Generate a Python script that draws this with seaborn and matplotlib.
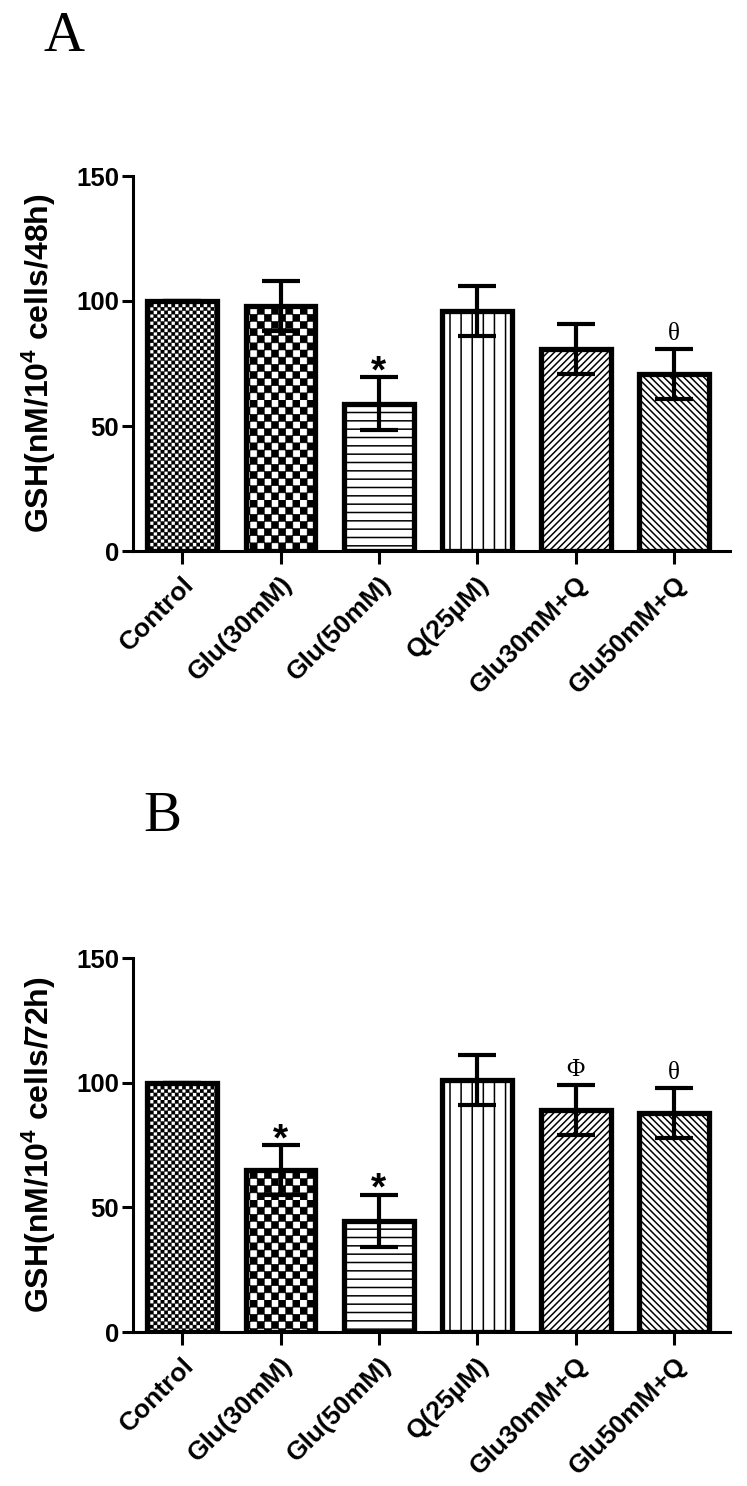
import numpy as np
import matplotlib
matplotlib.use("Agg")
import matplotlib.pyplot as plt
import matplotlib.hatch as mhatch
import matplotlib.transforms as mtrans
from matplotlib.path import Path
import seaborn as sns

# ---------------- data ----------------
categories = ["Control", "Glu(30mM)", "Glu(50mM)", "Q(25\u00b5M)", "Glu30mM+Q", "Glu50mM+Q"]
gsh_48h = [100, 98, 59, 96, 81, 71]
sd_48h = [0, 10, 10.5, 10, 10, 10]
marks_48h = ["", "", "*", "", "", "\u03b8"]
gsh_72h = [100, 65, 44.5, 101, 89, 88]
sd_72h = [0, 10, 10.5, 10, 10, 10]
marks_72h = ["", "*", "*", "", "\u03a6", "\u03b8"]
yticks = [0, 50, 100, 150]
ylabels = ["GSH(nM/10$^{4}$ cells/48h)", "GSH(nM/10$^{4}$ cells/72h)"]
panel_letters = ["A", "B"]


# ------------- custom hatch patterns -------------
class CheckerHatch(mhatch.HatchPatternBase):
    """'o' -> checkerboard of filled squares."""
    def __init__(self, hatch, density):
        k = hatch.count('o')
        self.n = 2 * int(round(k * density * 7 / 12)) if k else 0
        if self.n:
            self.cells = [(i, j) for i in range(self.n) for j in range(self.n)
                          if (i + j) % 2 == 0]
            self.num_vertices = len(self.cells) * 5
        else:
            self.cells = []
            self.num_vertices = 0

    def set_vertices_and_codes(self, vertices, codes):
        s = 1.0 / self.n
        k = 0
        for i, j in self.cells:
            x0, y0 = i * s, j * s
            vertices[k:k + 5] = [(x0, y0), (x0 + s, y0), (x0 + s, y0 + s),
                                 (x0, y0 + s), (x0, y0)]
            codes[k:k + 5] = [Path.MOVETO, Path.LINETO, Path.LINETO,
                              Path.LINETO, Path.CLOSEPOLY]
            k += 5


class NEDense(mhatch.NorthEastHatch):
    def __init__(self, hatch, density):
        self.num_lines = int(hatch.count('O') * 30)
        self.num_vertices = (self.num_lines + 1) * 2 if self.num_lines else 0


class SEDense(mhatch.SouthEastHatch):
    def __init__(self, hatch, density):
        self.num_lines = int(hatch.count('*') * 30)
        self.num_vertices = (self.num_lines + 1) * 2 if self.num_lines else 0


class VertMid(mhatch.VerticalHatch):
    def __init__(self, hatch, density):
        self.num_lines = int(hatch.count('.') * 9)
        self.num_vertices = self.num_lines * 2


mhatch._hatch_types[:] = [mhatch.HorizontalHatch, mhatch.VerticalHatch,
                          mhatch.NorthEastHatch, mhatch.SouthEastHatch,
                          CheckerHatch, NEDense, SEDense, VertMid]

hatches = ["oooo", "oo", "--", ".", "O", "*"]
hatch_lw = [0.2, 0.4, 1.1, 1.1, 1.1, 1.1]

# ---------------- style ----------------
sns.set_theme(style="ticks")
plt.rcParams["font.family"] = ["Liberation Sans", "DejaVu Sans"]
plt.rcParams["font.weight"] = "bold"
plt.rcParams["mathtext.fontset"] = "custom"
plt.rcParams["mathtext.rm"] = "Liberation Sans:bold"
plt.rcParams["mathtext.bf"] = "Liberation Sans:bold"
plt.rcParams["mathtext.it"] = "Liberation Sans:bold"
plt.rcParams["mathtext.default"] = "rm"
plt.rcParams["hatch.color"] = "black"

W, H = 747, 1486
fig = plt.figure(figsize=(W / 100, H / 100), dpi=100)
fig.patch.set_facecolor("white")

ax_boxes = [
    [133 / W, 1 - 551 / H, (730 - 133) / W, (551 - 176) / H],
    [133 / W, 1 - 1332 / H, (730 - 133) / W, (1332 - 958) / H],
]
letter_pos = [(43 / W, 1 - 51 / H), (143 / W, 1 - 831 / H)]

datasets = [(gsh_48h, sd_48h, marks_48h), (gsh_72h, sd_72h, marks_72h)]

for p, (vals, sds, marks) in enumerate(datasets):
    ax = fig.add_axes(ax_boxes[p])
    sns.barplot(x=categories, y=vals, color="white", edgecolor="black",
                linewidth=3.8, width=0.71, errorbar=None, saturation=1,
                ax=ax, zorder=2)
    for patch, h, hl in zip(ax.patches, hatches, hatch_lw):
        patch.set_hatch(h)
        if hasattr(patch, "set_hatch_linewidth"):
            patch.set_hatch_linewidth(hl)
        patch.set_joinstyle("miter")
    ax.errorbar(x=np.arange(len(categories)), y=vals, yerr=sds, fmt="none",
                ecolor="black", elinewidth=3.0, capsize=13.5, capthick=3.0,
                zorder=4)
    for i, m in enumerate(marks):
        if not m:
            continue
        top = vals[i] + sds[i]
        if m == "*":
            ax.text(i, top - 2.0, m, ha="center", va="baseline",
                    fontsize=28, fontweight="bold", color="black",
                    family=["Liberation Sans"], zorder=5)
        else:
            ax.text(i, top + 3.5, m, ha="center", va="baseline",
                    fontsize=18, fontweight="normal", color="black",
                    family=["Liberation Serif", "DejaVu Serif"], zorder=5)

    ax.set_ylim(0, 150)
    ax.set_xlim(-0.5, 5.57)
    ax.set_yticks(yticks)
    ax.set_yticklabels([str(t) for t in yticks], fontsize=18.5, fontweight="bold")
    ax.set_xticks(np.arange(len(categories)))
    ax.set_xticklabels(categories, rotation=45, ha="right",
                       rotation_mode="anchor", fontsize=19, fontweight="bold")
    shift = mtrans.ScaledTranslation(6 / 100, 0, fig.dpi_scale_trans)
    for lab in ax.get_xticklabels():
        lab.set_transform(lab.get_transform() + shift)
    ax.tick_params(axis="y", direction="out", length=8, width=2.2, pad=2,
                   colors="black")
    ax.tick_params(axis="x", direction="out", length=9, width=2.2, pad=6,
                   colors="black")
    for s in ["top", "right"]:
        ax.spines[s].set_visible(False)
    for s in ["left", "bottom"]:
        ax.spines[s].set_linewidth(2.2)
        ax.spines[s].set_color("black")
    ax.set_ylabel(ylabels[p], fontsize=23, fontweight="bold", labelpad=13,
                  color="black")
    ax.set_xlabel("")
    ax.set_facecolor("white")
    ax.grid(False)

    fig.text(letter_pos[p][0], letter_pos[p][1], panel_letters[p],
             fontsize=41, family=["Liberation Serif", "DejaVu Serif"],
             fontweight="normal", va="baseline", ha="left", color="black")

fig.savefig("out.png", dpi=100, facecolor="white")
